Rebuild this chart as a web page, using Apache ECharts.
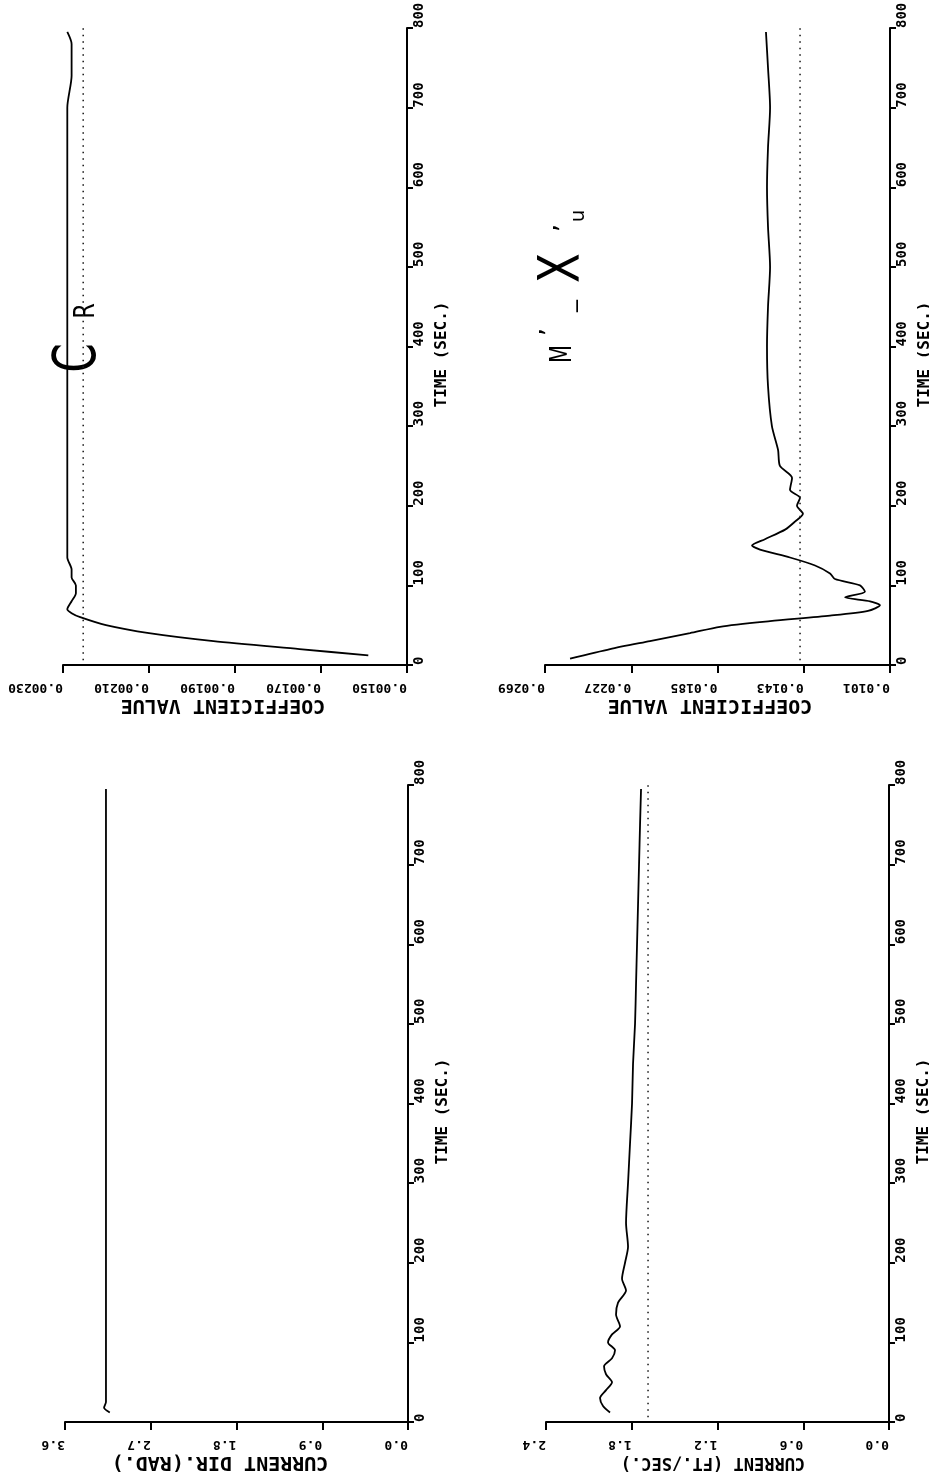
<!DOCTYPE html>
<html>
<head>
<meta charset="utf-8">
<script src="https://cdn.jsdelivr.net/npm/echarts@6/dist/echarts.min.js"></script>
<style>
  html, body { margin: 0; padding: 0; background: #fff; }
  #chart { width: 929px; height: 1478px; }
</style>
</head>
<body>
<div id="chart"></div>
<script>
// Time axis shared by all four panels (seconds)
const timeTicks = [0, 100, 200, 300, 400, 500, 600, 700, 800];

// Coefficient C'_R
const crTicks = [0.00150, 0.00170, 0.00190, 0.00210, 0.00230];
const crTime  = [12, 20, 30, 40, 50, 60, 65, 70, 80, 90, 100, 110, 120, 135, 150, 175, 200, 250, 300, 350, 400, 450, 500, 550, 600, 650, 700, 740, 760, 780, 795];
const crValue = [0.00159, 0.00175, 0.00195, 0.00210, 0.00220, 0.00226, 0.00228, 0.00229, 0.00228, 0.00227, 0.00227, 0.00228, 0.00228, 0.00229, 0.00229, 0.00229, 0.00229, 0.00229, 0.00229, 0.00229, 0.00229, 0.00229, 0.00229, 0.00229, 0.00229, 0.00229, 0.00229, 0.00228, 0.00228, 0.00228, 0.00229];
const crRef = 0.002253;

// Coefficient M'_X'u
const mxTicks = [0.0101, 0.0143, 0.0185, 0.0227, 0.0269];
const mxTime  = [8, 20, 30, 40, 48, 55, 62, 68, 75, 80, 85, 92, 100, 108, 115, 125, 135, 145, 150, 158, 170, 180, 190, 200, 210, 220, 235, 250, 270, 300, 350, 400, 450, 500, 550, 600, 650, 700, 750, 795];
const mxValue = [0.02568, 0.02373, 0.02179, 0.01984, 0.01838, 0.01594, 0.01302, 0.01117, 0.01059, 0.01107, 0.01229, 0.01132, 0.01156, 0.01278, 0.01302, 0.01375, 0.01497, 0.01643, 0.01682, 0.01619, 0.01521, 0.01473, 0.01434, 0.01463, 0.01448, 0.01497, 0.01487, 0.01546, 0.01555, 0.01585, 0.01604, 0.01609, 0.01604, 0.01594, 0.01604, 0.01609, 0.01604, 0.01594, 0.01604, 0.01614];
const mxRef = 0.01448;

// Current direction (rad)
const dirTicks = [0.0, 0.9, 1.8, 2.7, 3.6];
const dirTime  = [12, 18, 25, 40, 60, 100, 150, 200, 300, 400, 500, 600, 700, 795];
const dirValue = [3.13, 3.19, 3.17, 3.17, 3.17, 3.17, 3.17, 3.17, 3.17, 3.17, 3.17, 3.17, 3.17, 3.17];

// Current speed (ft/sec)
const spdTicks = [0.0, 0.6, 1.2, 1.8, 2.4];
const spdTime  = [12, 20, 30, 40, 50, 60, 70, 80, 90, 100, 110, 120, 135, 150, 165, 180, 200, 220, 250, 300, 350, 400, 450, 500, 550, 600, 650, 700, 750, 795];
const spdValue = [1.952, 2.001, 2.022, 1.980, 1.938, 1.980, 1.994, 1.938, 1.917, 1.966, 1.938, 1.882, 1.910, 1.896, 1.840, 1.868, 1.847, 1.826, 1.840, 1.826, 1.812, 1.798, 1.791, 1.777, 1.770, 1.763, 1.756, 1.749, 1.742, 1.735];
const spdRef = 1.686;

const MONO = '"DejaVu Sans Mono", "Liberation Mono", monospace';
const INK = '#000';

function pairs(values, times) {
  return times.map((t, k) => [values[k], t]);
}

function panel(idx, rect, ticks, decimals, title, titleSize, titleShift) {
  const grid = Object.assign({ containLabel: false, outerBoundsMode: 'none' }, rect);
  const xAxis = {
    type: 'value', gridIndex: idx,
    min: ticks[0], max: ticks[ticks.length - 1],
    inverse: true, position: 'bottom',
    axisLine: { show: true, onZero: false, lineStyle: { color: INK, width: 2 } },
    axisTick: { show: true, customValues: ticks, length: 8, lineStyle: { color: INK, width: 2 } },
    axisLabel: {
      customValues: ticks, rotate: 180, align: 'left', verticalAlign: 'bottom', margin: 16,
      formatter: v => Number(v).toFixed(decimals),
      color: INK, fontFamily: MONO, fontWeight: 'bold', fontSize: 13
    },
    splitLine: { show: false },
    name: title, nameLocation: 'middle', nameGap: 40, nameRotate: 180, nameMoveOverlap: false,
    nameTextStyle: { color: INK, fontFamily: MONO, fontWeight: 'bold', fontSize: titleSize, align: 'center', verticalAlign: 'middle', padding: [0, 0, 0, titleShift] }
  };
  const yAxis = {
    type: 'value', gridIndex: idx,
    min: 0, max: 800, interval: 100, position: 'right',
    axisLine: { show: true, onZero: false, lineStyle: { color: INK, width: 2 } },
    axisTick: { show: true, length: 6, lineStyle: { color: INK, width: 2 } },
    axisLabel: {
      rotate: 90, align: 'left', verticalAlign: 'top', margin: 5,
      color: INK, fontFamily: MONO, fontWeight: 'bold', fontSize: 14
    },
    splitLine: { show: false },
    name: 'TIME (SEC.)', nameLocation: 'middle', nameGap: 35, nameRotate: 90, nameMoveOverlap: false,
    nameTextStyle: { color: INK, fontFamily: MONO, fontWeight: 'bold', fontSize: 16, align: 'center', verticalAlign: 'middle', padding: [0, 16, 0, 0] }
  };
  return { grid, xAxis, yAxis };
}

const panels = [
  panel(0, { left: 63,  top: 28,  width: 344, height: 637 }, crTicks,  5, 'COEFFICIENT VALUE', 20, 24),
  panel(1, { left: 545, top: 28,  width: 345, height: 637 }, mxTicks,  4, 'COEFFICIENT VALUE', 20, 15),
  panel(2, { left: 65,  top: 785, width: 343, height: 637 }, dirTicks, 1, 'CURRENT DIR.(RAD.)', 20, 33),
  panel(3, { left: 546, top: 785, width: 343, height: 637 }, spdTicks, 1, 'CURRENT (FT./SEC.)', 17, 9)
];

function curve(idx, values, times) {
  return {
    type: 'line', xAxisIndex: idx, yAxisIndex: idx,
    data: pairs(values, times),
    showSymbol: false, smooth: 0.25, silent: true,
    lineStyle: { color: INK, width: 1.8 }
  };
}
function refLine(idx, value) {
  return {
    type: 'line', xAxisIndex: idx, yAxisIndex: idx,
    data: [[value, 6], [value, 800]],
    showSymbol: false, silent: true,
    lineStyle: { color: '#222', width: 1.6, type: [1.5, 5] }
  };
}

// Annotation glyphs are drawn rotated a quarter turn, like the axis text
const annoFont = '"DejaVu Sans", sans-serif';
function glyph(text, x, y, size, sx, sy) {
  return {
    type: 'text', x: x, y: y, rotation: Math.PI / 2, scaleX: sx || 1, scaleY: sy || 1,
    style: { text: text, fill: INK, font: size + 'px ' + annoFont, align: 'center', verticalAlign: 'middle' }
  };
}

const chart = echarts.init(document.getElementById('chart'), null, { renderer: 'canvas' });
chart.setOption({
  animation: false,
  backgroundColor: '#fff',
  grid: panels.map(p => p.grid),
  xAxis: panels.map(p => p.xAxis),
  yAxis: panels.map(p => p.yAxis),
  series: [
    curve(0, crValue, crTime),  refLine(0, crRef),
    curve(1, mxValue, mxTime),  refLine(1, mxRef),
    curve(2, dirValue, dirTime),
    curve(3, spdValue, spdTime), refLine(3, spdRef)
  ],
  graphic: [
    // C'_R label
    glyph('C', 80, 358, 44, 0.95, 1.35),
    glyph('R', 87, 311, 28, 0.8, 1),
    // M'_X'u label
    glyph('M', 563, 354, 30, 0.7, 1),
    glyph('\u2019', 552, 332, 26),
    glyph('_', 566, 306, 24),
    glyph('X', 564, 268, 56, 0.78, 1.02),
    glyph('\u2019', 566, 228, 26),
    glyph('u', 579, 216, 20)
  ]
});
</script>
</body>
</html>
